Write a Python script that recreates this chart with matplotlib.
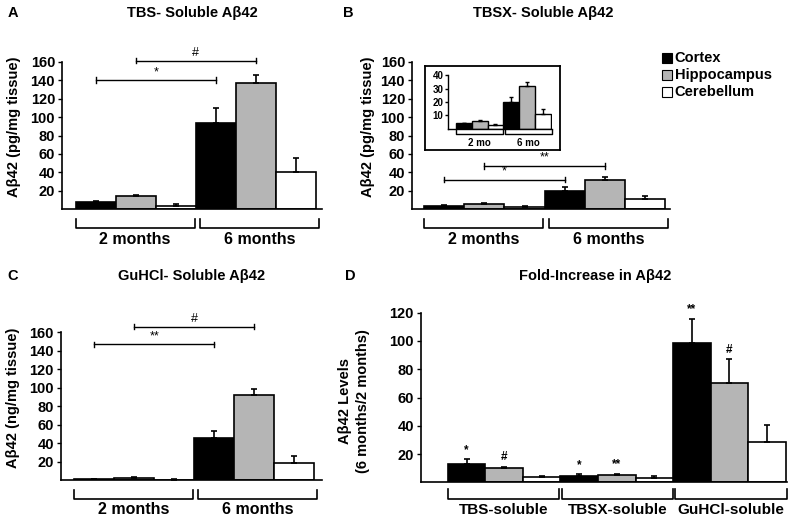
import matplotlib
matplotlib.use('Agg')
import matplotlib.pyplot as plt
from matplotlib.patches import Rectangle
import numpy as np

plt.rcParams['font.family'] = ['Liberation Sans', 'DejaVu Sans']
plt.rcParams['font.weight'] = 'bold'
plt.rcParams['axes.labelweight'] = 'bold'

regions = ['Cortex', 'Hippocampus', 'Cerebellum']
ages = ['2 months', '6 months']
ages_short = ['2 mo', '6 mo']
fractions = ['TBS-soluble', 'TBSX-soluble', 'GuHCl-soluble']
colors = ['black', '#b5b5b5', 'white']

# mean and SEM: rows = age (or fraction), columns = region
tbs_mean = [[7.9, 13.9, 3.9], [93.2, 136.8, 40.4]]
tbs_sem = [[0.7, 1.1, 2.1], [16.8, 9.2, 15.0]]
tbsx_mean = [[4.0, 5.8, 2.5], [20.3, 31.8, 10.7]]
tbsx_sem = [[0.5, 0.8, 0.8], [3.5, 3.5, 3.8]]
guhcl_mean = [[1.0, 2.5, 0.8], [45.5, 92.3, 18.9]]
guhcl_sem = [[0.3, 1.0, 0.3], [7.5, 6.5, 7.2]]
fold_mean = [[13.3, 10.4, 3.7], [4.6, 5.1, 3.2], [98.9, 70.1, 28.6]]
fold_sem = [[2.9, 0.5, 0.9], [1.0, 0.9, 1.4], [16.8, 17.1, 12.2]]

# significance between ages: (label, region, bracket height)
tbs_sig = [('*', 0, 140), ('#', 1, 161)]
tbsx_sig = [('*', 0, 32), ('**', 1, 47)]
guhcl_sig = [('**', 0, 147), ('#', 1, 166)]
# significance on fold change: (label, fraction, region)
fold_sig = [('*', 0, 0), ('#', 0, 1), ('*', 1, 0), ('**', 1, 1), ('**', 2, 0), ('#', 2, 1)]


def draw_bars(ax, mean, sem, capsize=2.0, lw=1.2):
    mean = np.asarray(mean)
    sem = np.asarray(sem)
    n = mean.shape[0]
    for r in range(3):
        x = np.arange(n) * 3 + r
        ax.bar(x, mean[:, r], width=1.0, color=colors[r], edgecolor='black',
               linewidth=lw, zorder=2)
        ax.errorbar(x, mean[:, r], yerr=[np.zeros(n), sem[:, r]], fmt='none',
                    ecolor='black', elinewidth=lw, capsize=capsize, capthick=lw,
                    zorder=3)


def style_axes(ax, ylim, ticks, xlim, fs=10.5):
    ax.set_xlim(xlim)
    ax.set_ylim(ylim)
    ax.set_yticks(ticks)
    ax.set_xticks([])
    for s in ['top', 'right']:
        ax.spines[s].set_visible(False)
    for s in ['left', 'bottom']:
        ax.spines[s].set_linewidth(1.2)
    ax.tick_params(axis='y', length=3, width=1, labelsize=fs, pad=2)
    ax.patch.set_alpha(0)


def group_brackets(ax, labels, y_line, y_end, y_text, fs, shift=0.1, lw=1.2):
    for g, lab in enumerate(labels):
        x0 = 3 * g - 0.5 + shift * g
        x1 = 3 * g + 2.47 + shift * g
        ax.plot([x0, x0, x1, x1], [y_end, y_line, y_line, y_end], color='black',
                lw=lw, clip_on=False)
        ax.text((x0 + x1) / 2, y_text, lab, ha='center', va='center',
                fontsize=fs, fontweight='bold')


def sig_lines(ax, sig, tick, fs=9):
    for lab, r, h in sig:
        x0, x1 = r, 3 + r
        ax.plot([x0, x1], [h, h], color='black', lw=1, clip_on=False)
        ax.plot([x0, x0], [h - tick, h + tick], color='black', lw=1, clip_on=False)
        ax.plot([x1, x1], [h - tick, h + tick], color='black', lw=1, clip_on=False)
        ax.annotate(lab, ((x0 + x1) / 2, h), xytext=(0, 1.5),
                    textcoords='offset points', ha='center', va='bottom',
                    fontsize=fs, fontweight='normal', annotation_clip=False)


def set_ylabel(ax, text, x, y, fs=10.5, ls=1.2):
    ax.set_ylabel(text, fontsize=fs, linespacing=ls)
    ax.yaxis.set_label_coords(x, y)
    ax.yaxis.label.set_va('center')


fig = plt.figure(figsize=(8, 5.22), dpi=100)

# panel letters and titles
for letter, x, y in [('A', 0.009, 0.975), ('B', 0.429, 0.975),
                     ('C', 0.009, 0.472), ('D', 0.431, 0.472)]:
    fig.text(x, y, letter, fontsize=10.5, fontweight='bold', va='center')
for title, x, y in [('TBS- Soluble Aβ42', 0.24, 0.975),
                    ('TBSX- Soluble Aβ42', 0.679, 0.975),
                    ('GuHCl- Soluble Aβ42', 0.239, 0.472),
                    ('Fold-Increase in Aβ42', 0.744, 0.472)]:
    fig.text(x, y, title, fontsize=10.5, fontweight='bold', ha='center', va='center')

# A
axA = fig.add_axes([0.0775, 0.599, 0.325, 0.2828])
draw_bars(axA, tbs_mean, tbs_sem)
style_axes(axA, (0, 160), range(20, 161, 20), (-0.84, 5.65))
group_brackets(axA, ages, -20, -10, -33, 11.5)
sig_lines(axA, tbs_sig, 2.9)
set_ylabel(axA, 'Aβ42 (pg/mg tissue)', -0.185, 0.557)

# B
axB = fig.add_axes([0.515, 0.599, 0.3225, 0.2828])
draw_bars(axB, tbsx_mean, tbsx_sem)
style_axes(axB, (0, 160), range(20, 161, 20), (-0.8, 5.62))
group_brackets(axB, ages, -20, -10, -33, 11.5)
sig_lines(axB, tbsx_sig, 2.9)
set_ylabel(axB, 'Aβ42 (pg/mg tissue)', -0.17, 0.557)

# inset of B
box = fig.add_axes([0.531, 0.7126, 0.169, 0.161])
box.set_xticks([])
box.set_yticks([])
for s in box.spines.values():
    s.set_linewidth(1.3)
axI = fig.add_axes([0.5596, 0.7534, 0.13, 0.1023])
draw_bars(axI, tbsx_mean, tbsx_sem, capsize=1.2, lw=1.0)
style_axes(axI, (0, 40), range(10, 41, 10), (-1.03, 5.56), fs=7)
axI.tick_params(axis='y', length=2, pad=1)
for s in ['left', 'bottom']:
    axI.spines[s].set_linewidth(1.0)
group_brackets(axI, ages_short, -4, -1, -11, 7, lw=1.0)

# legend
for i, (lab, c) in enumerate(zip(regions, colors)):
    yc = 1 - (58.3 + 16.7 * i) / 522
    fig.add_artist(Rectangle((661.7 / 800, yc - 5 / 522), 10 / 800, 10 / 522,
                             facecolor=c, edgecolor='black', lw=0.8,
                             transform=fig.transFigure))
    fig.text(674.5 / 800, yc, lab, fontsize=10.5, fontweight='bold', va='center')

# C
axC = fig.add_axes([0.0759, 0.0799, 0.3266, 0.2835])
draw_bars(axC, guhcl_mean, guhcl_sem)
style_axes(axC, (0, 160), range(20, 161, 20), (-0.84, 5.69))
group_brackets(axC, ages, -20.5, -10.5, -32, 11.5)
sig_lines(axC, guhcl_sig, 2.9)
set_ylabel(axC, 'Aβ42 (ng/mg tissue)', -0.183, 0.558)

# D
axD = fig.add_axes([0.526, 0.076, 0.4575, 0.325])
draw_bars(axD, fold_mean, fold_sem)
style_axes(axD, (0, 120), range(20, 121, 20), (-1.22, 8.53))
group_brackets(axD, fractions, -12, -4.7, -19.8, 11, shift=0.03)
fm = np.asarray(fold_mean) + np.asarray(fold_sem)
for lab, g, r in fold_sig:
    axD.annotate(lab, (3 * g + r, fm[g, r]), xytext=(0, 2.5),
                 textcoords='offset points', ha='center', va='bottom',
                 fontsize=8.5, fontweight='bold', annotation_clip=False)
set_ylabel(axD, 'Aβ42 Levels\n(6 months/2 months)', -0.182, 0.48, ls=1.4)

fig.savefig('out.png', dpi=100)
